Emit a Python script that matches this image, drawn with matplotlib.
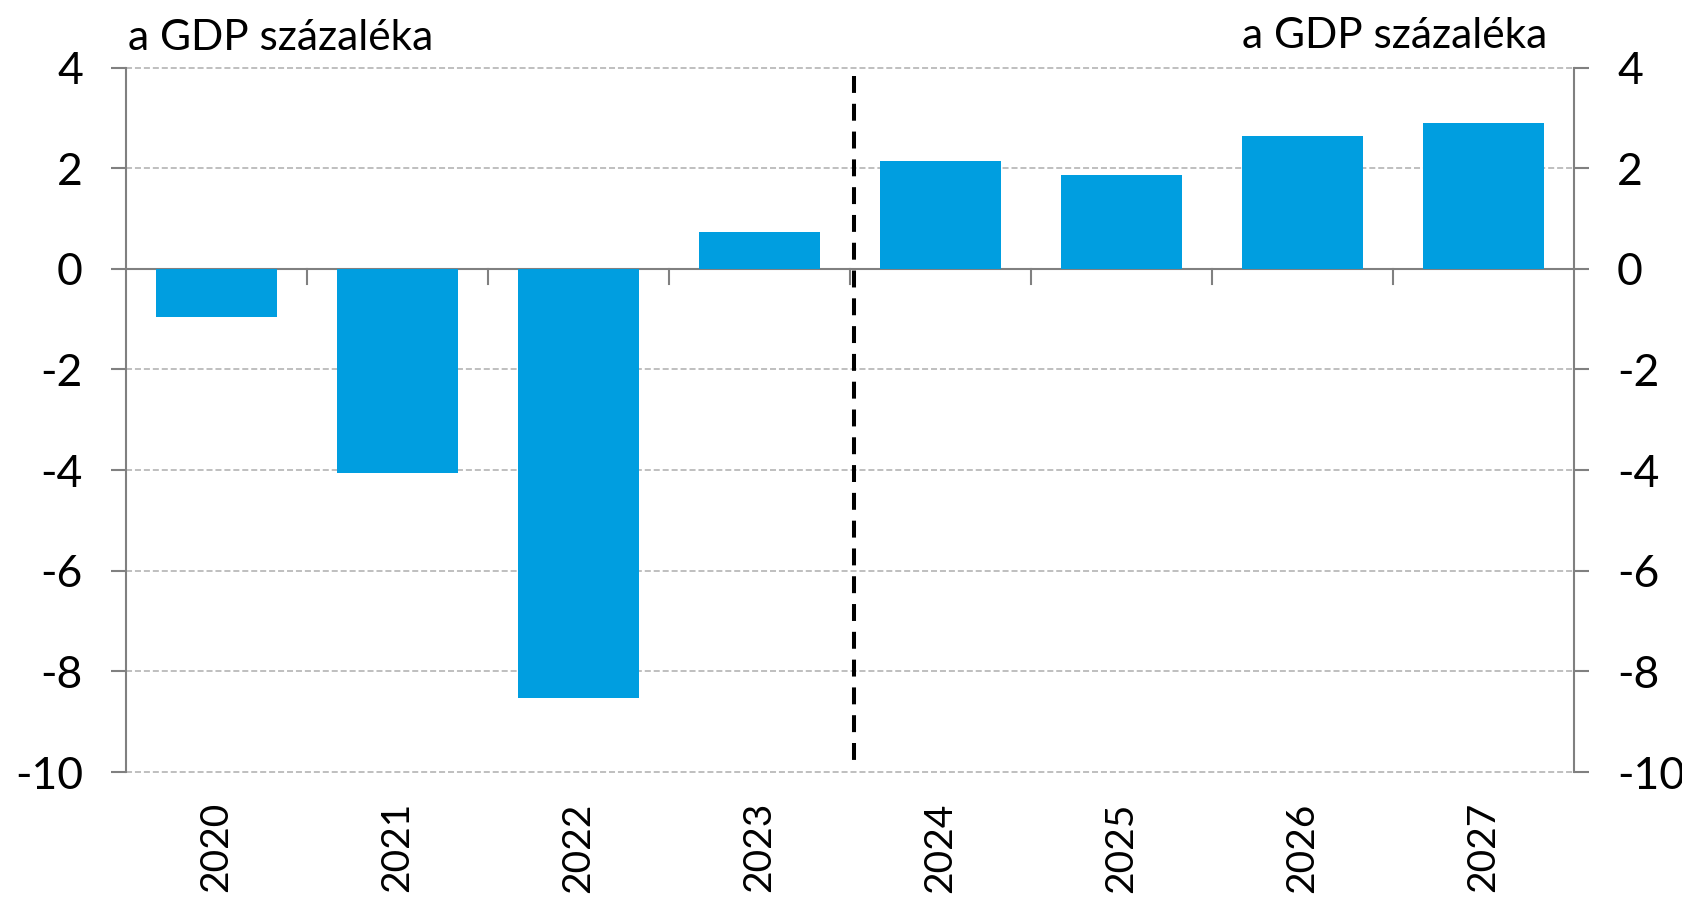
import numpy as np
import matplotlib.pyplot as plt

# Data
years = ['2020', '2021', '2022', '2023', '2024', '2025', '2026', '2027']
balance = [-0.95, -4.06, -8.52, 0.74, 2.15, 1.86, 2.65, 2.90]
yticks = [4, 2, 0, -2, -4, -6, -8, -10]
unit_label = 'a GDP százaléka'

plt.rcParams['font.family'] = ['Lato', 'DejaVu Sans']

fig = plt.figure(figsize=(16.83, 9.01), dpi=100)
ax = fig.add_axes([0.07487, 0.14317, 0.86036, 0.7818])

x = np.arange(len(years))
ax.bar(x, balance, width=0.667, color='#009EE0', zorder=3)

# Forecast separator between 2023 and 2024
ax.plot([3.52, 3.52], [3.83, -9.84], color='black', linestyle=(0, (4.2, 2.7)),
        linewidth=2.9, zorder=4, solid_capstyle='butt', dash_capstyle='butt')

ax.set_xlim(-0.5, len(years) - 0.5)
ax.set_ylim(-10, 4)
ax.set_yticks(yticks)
ax.set_yticklabels([str(t) for t in yticks], fontsize=32)
ax.grid(axis='y', color='#BFBFBF', linestyle=(0, (3.1, 1.5)), linewidth=1.4, zorder=0)
for gl in ax.get_ygridlines():
    gl.set_clip_on(False)

# Category labels below the plot, ticks at category boundaries on zero line
ax.set_xticks([])
for i, yr in enumerate(years):
    ax.text(i, -10.6, yr, rotation=90, ha='center', va='top', fontsize=28)
for b in np.arange(0.5, len(years) - 0.5, 1):
    ax.plot([b, b], [0, -0.3], color='#808080', linewidth=1.5, zorder=2)
ax.axhline(0, color='#808080', linewidth=1.5, zorder=2)

for s in ['top', 'bottom']:
    ax.spines[s].set_visible(False)
for s in ['left', 'right']:
    ax.spines[s].set_color('#808080')
    ax.spines[s].set_linewidth(1.5)

ax.tick_params(axis='y', length=11, width=1.5, color='#808080', pad=20,
               left=True, right=True, labelleft=True, labelright=True)

fig.text(128 / 1683, 1 - 50 / 901, unit_label, fontsize=30.5, ha='left', va='baseline')
fig.text(1547 / 1683, 1 - 47.5 / 901, unit_label, fontsize=30.5, ha='right', va='baseline')

plt.savefig('out.png', dpi=100)
